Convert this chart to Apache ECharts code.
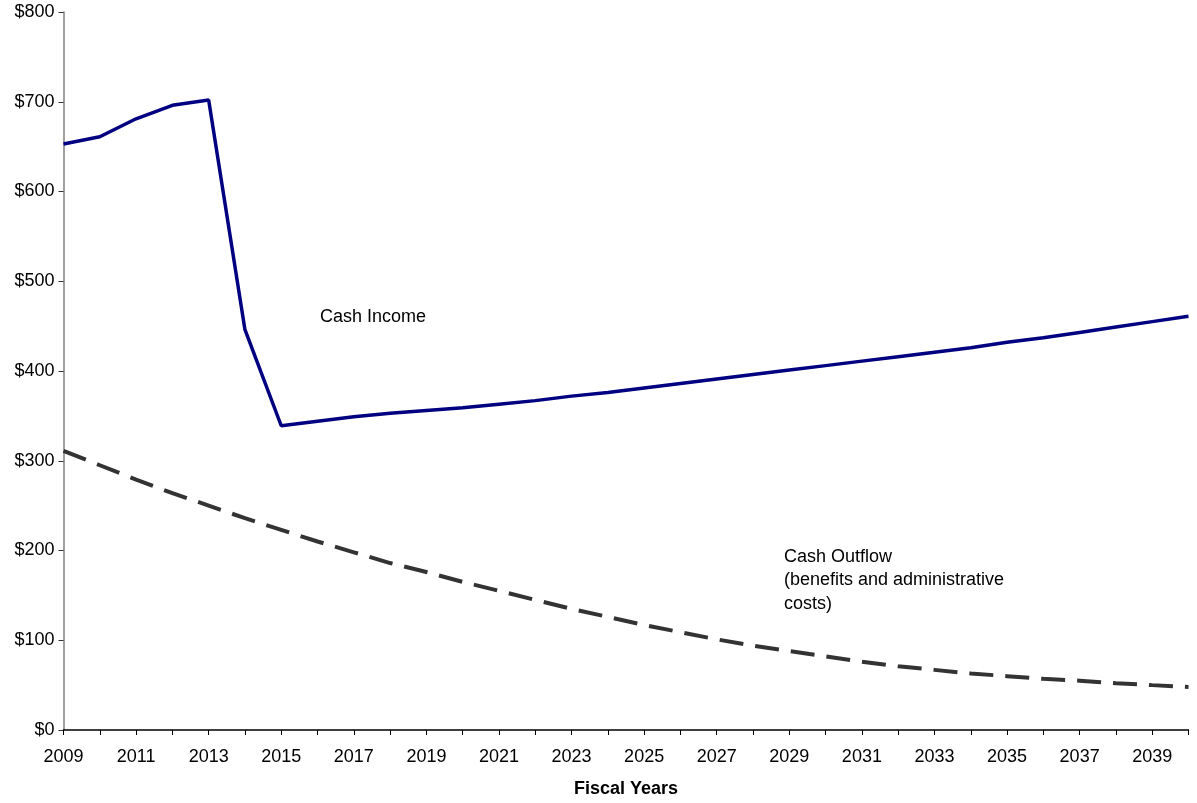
<!DOCTYPE html>
<html>
<head>
<meta charset="utf-8">
<script src="https://cdn.jsdelivr.net/npm/echarts@6/dist/echarts.min.js"></script>
<style>
html,body{margin:0;padding:0;background:#fff;}
#chart{width:1197px;height:803px;}
</style>
</head>
<body>
<div id="chart"></div>
<script>
const years = ['2009','2010','2011','2012','2013','2014','2015','2016','2017','2018','2019','2020','2021','2022','2023','2024','2025','2026','2027','2028','2029','2030','2031','2032','2033','2034','2035','2036','2037','2038','2039','2040'];
const cashIncome = [653,661,681,696,702,446,339,344,349,353,356,359,363,367,372,376,381,386,391,396,401,406,411,416,421,426,432,437,443,449,455,461];
const cashOutflow = [311,295,279,264,250,236,223,210,198,186,176,165,155,145,135,126,117,109,101,94,88,82,76,71,67,63,60,57,55,52,50,48];
const yTicks = [0,100,200,300,400,500,600,700,800];
const incomeLabel = 'Cash Income';
const outflowLabel = 'Cash Outflow\n(benefits and administrative\ncosts)';
const xTitle = 'Fiscal Years';

const font = 'Liberation Sans, Arial, sans-serif';
const chart = echarts.init(document.getElementById('chart'), null, {renderer:'canvas'});
chart.setOption({
  animation:false,
  backgroundColor:'#fff',
  grid:{left:63.5,right:8.5,top:12,bottom:72,containLabel:false},
  xAxis:{
    type:'category',
    data:years,
    boundaryGap:false,
    name:xTitle,
    nameLocation:'middle',
    nameGap:50,
    nameTextStyle:{fontFamily:font,fontSize:18,fontWeight:'bold',color:'#000'},
    axisLine:{lineStyle:{color:'#000',width:1.5}},
    axisTick:{show:true,interval:0,length:5,lineStyle:{color:'#000',width:1}},
    axisLabel:{interval:1,margin:18,fontFamily:font,fontSize:18,color:'#000'},
    splitLine:{show:false}
  },
  yAxis:{
    type:'value',
    min:yTicks[0],
    max:yTicks[yTicks.length-1],
    interval:100,
    axisLine:{show:true,lineStyle:{color:'#808080',width:1.5}},
    axisTick:{show:true,length:5,lineStyle:{color:'#333',width:1}},
    axisLabel:{margin:9,fontFamily:font,fontSize:18,color:'#000',formatter:v=>'$'+v},
    splitLine:{show:false}
  },
  series:[
    {name:incomeLabel,type:'line',data:cashIncome,symbol:'none',
     lineStyle:{color:'#000080',width:3.5},z:3},
    {name:'Cash Outflow',type:'line',data:cashOutflow,symbol:'none',
     lineStyle:{color:'#333333',width:4,type:[24,12]},z:2}
  ],
  graphic:[
    {type:'text',left:320,top:308,style:{text:incomeLabel,font:'18px '+font,fill:'#000'}},
    {type:'text',left:784,top:545,style:{text:outflowLabel,font:'18px '+font,fill:'#000',lineHeight:23.5}}
  ]
});
</script>
</body>
</html>
